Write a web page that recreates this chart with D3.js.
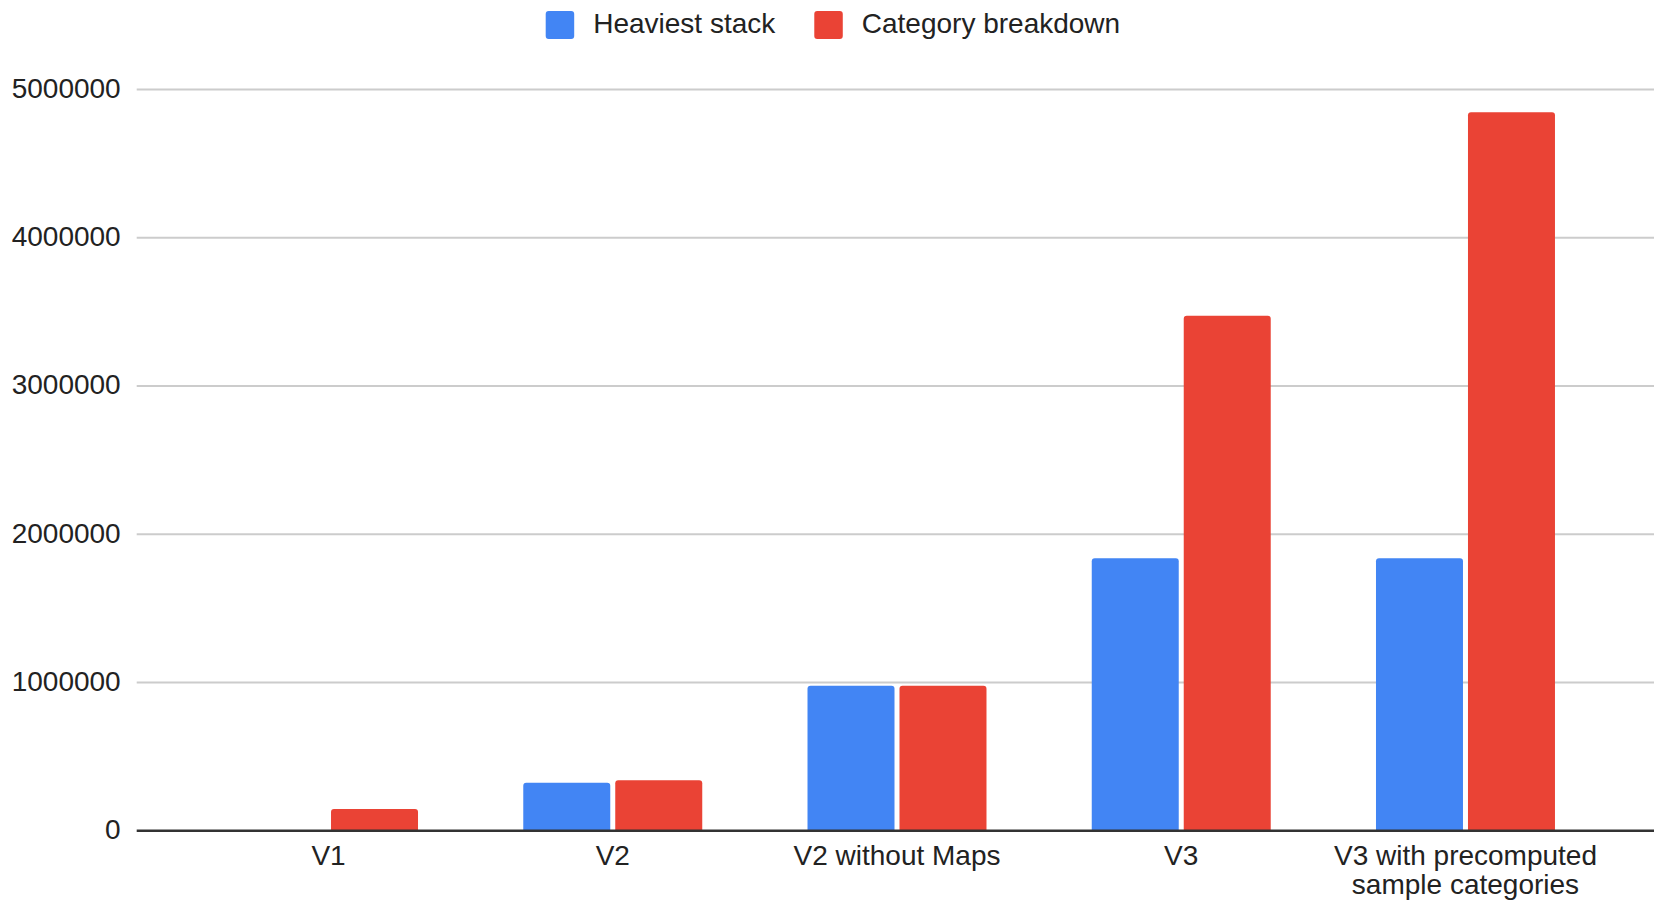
<!DOCTYPE html>
<html>
<head>
<meta charset="utf-8">
<script src="https://cdn.jsdelivr.net/npm/d3@7"></script>
<style>
  html, body { margin: 0; padding: 0; background: #fff; }
  svg { display: block; }
  text { font-family: "Liberation Sans", Arial, sans-serif; fill: #222; }
</style>
</head>
<body>
<svg id="chart" width="1654" height="901"></svg>
<script>
// ---- data ----
const categories = ["V1", "V2", "V2 without Maps", "V3", "V3 with precomputed sample categories"];
const seriesNames = ["Heaviest stack", "Category breakdown"];
const heaviestStack = [null, 324000, 979000, 1838000, 1838000];
const categoryBreakdown = [147000, 341000, 979000, 3474000, 4846000];
const yTicks = [0, 1000000, 2000000, 3000000, 4000000, 5000000];
const colors = ["#4285f4", "#ea4335"];

const seriesValues = [heaviestStack, categoryBreakdown];

const W = 1654, H = 901;
const plotLeft = 136.7, plotRight = 1654;
const svg = d3.select("#chart");

const y = d3.scaleLinear().domain([0, 5000000]).range([830.8, 89.5]);

const x0 = d3.scaleBand().domain(categories).range([186.4, 1607.6])
  .paddingInner(0.3703).paddingOuter(0.18515);
const x1 = d3.scaleBand().domain(seriesNames).range([0, x0.bandwidth()])
  .paddingInner(0.0543);

// gridlines
svg.append("g").selectAll("line").data(yTicks.filter(d => d !== 0)).join("line")
  .attr("x1", plotLeft).attr("x2", plotRight)
  .attr("y1", d => y(d)).attr("y2", d => y(d))
  .attr("stroke", "#cccccc").attr("stroke-width", 2);

// y labels
svg.append("g").selectAll("text").data(yTicks).join("text")
  .attr("x", 120.7).attr("y", d => y(d))
  .attr("dy", "0.3em")
  .attr("text-anchor", "end")
  .style("font-size", "28px")
  .text(d => d3.format("d")(d));

// bars
const r = 3;
function barPath(x, yTop, w, yBase) {
  const h = yBase - yTop;
  const rr = Math.min(r, h / 2, w / 2);
  return `M${x},${yBase}V${yTop + rr}Q${x},${yTop} ${x + rr},${yTop}H${x + w - rr}Q${x + w},${yTop} ${x + w},${yTop + rr}V${yBase}Z`;
}
const barData = [];
categories.forEach((c, i) => {
  seriesNames.forEach((s, j) => {
    const v = seriesValues[j][i];
    if (v != null && v > 0) barData.push({ c, s, v, j });
  });
});
svg.append("g").selectAll("path").data(barData).join("path")
  .attr("d", d => barPath(x0(d.c) + x1(d.s), y(d.v), x1.bandwidth(), y(0)))
  .attr("fill", d => colors[d.j]);

// zero axis line
svg.append("line")
  .attr("x1", plotLeft).attr("x2", plotRight)
  .attr("y1", y(0)).attr("y2", y(0))
  .attr("stroke", "#333").attr("stroke-width", 2.5);

// x labels (wrapped)
const xl = svg.append("g").selectAll("text").data(categories).join("text")
  .attr("x", d => x0(d) + x0.bandwidth() / 2)
  .attr("y", 864.8)
  .attr("text-anchor", "middle")
  .style("font-size", "28px");
xl.each(function(d) {
  const t = d3.select(this);
  const words = d.split(" ");
  const maxW = x0.step() - 10;
  let line = [];
  let lines = [];
  const tmp = t.append("tspan");
  words.forEach(wd => {
    line.push(wd);
    tmp.text(line.join(" "));
    if (tmp.node().getComputedTextLength() > maxW && line.length > 1) {
      line.pop();
      lines.push(line.join(" "));
      line = [wd];
    }
  });
  lines.push(line.join(" "));
  tmp.remove();
  lines.forEach((ln, k) => {
    t.append("tspan").attr("x", x0(d) + x0.bandwidth() / 2)
      .attr("dy", k === 0 ? 0 : 29).text(ln);
  });
});

// legend
const lg = svg.append("g");
let lx = 545.7;
seriesNames.forEach((s, j) => {
  lg.append("rect").attr("x", lx).attr("y", 11).attr("width", 28.5).attr("height", 28)
    .attr("rx", 3).attr("fill", colors[j]);
  const tx = lg.append("text").attr("x", lx + 47.5).attr("y", 33.3)
    .style("font-size", "28px").text(s);
  lx = lx + 47.5 + tx.node().getComputedTextLength() + 39;
});
</script>
</body>
</html>
